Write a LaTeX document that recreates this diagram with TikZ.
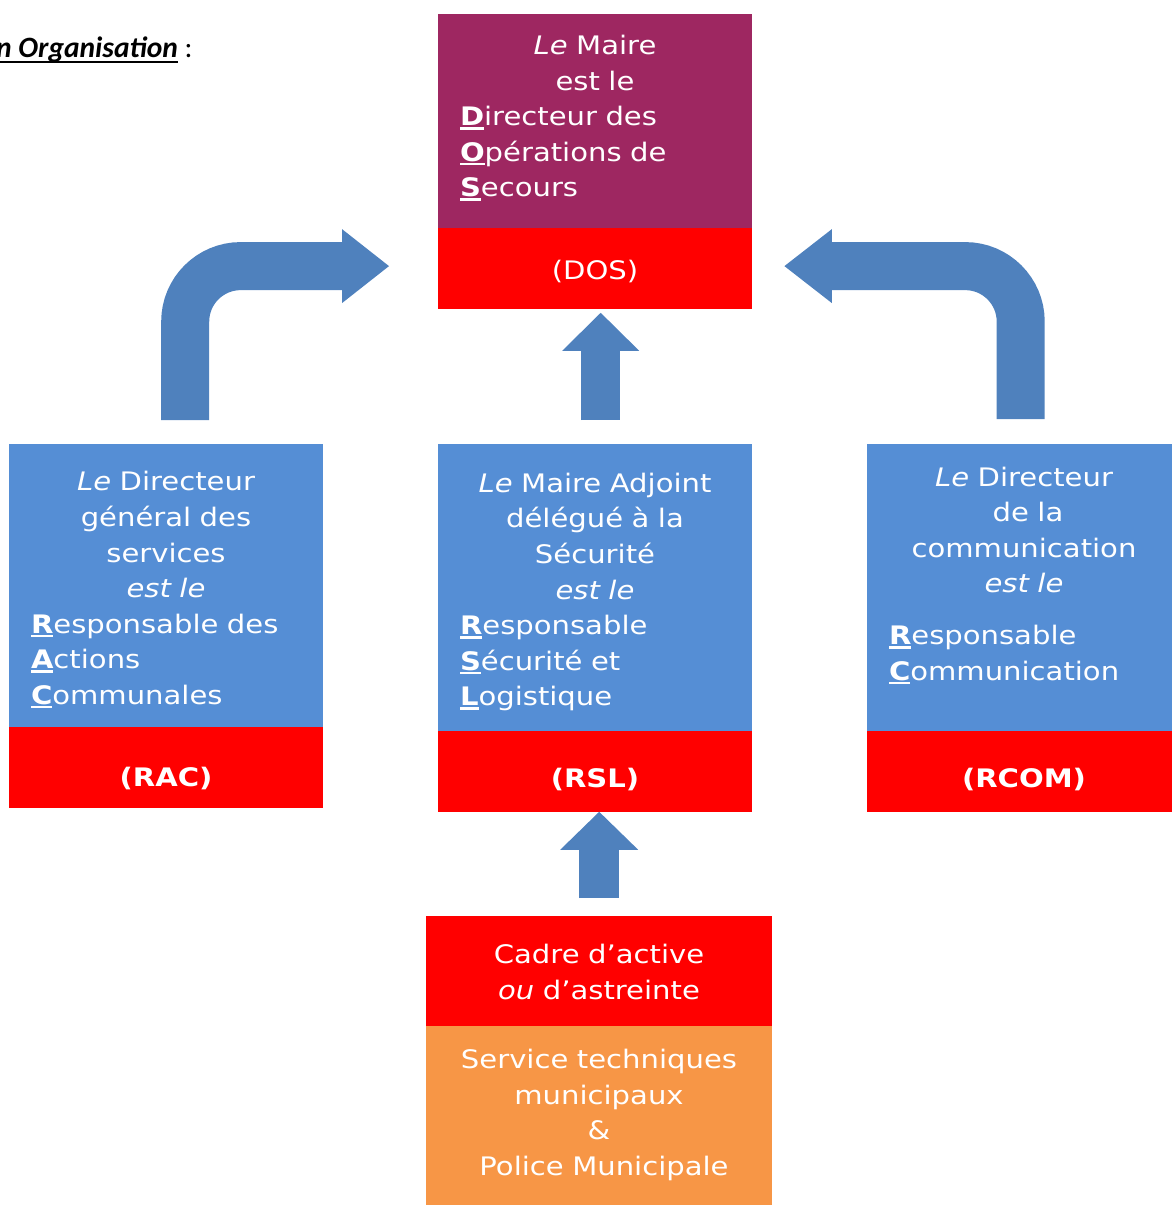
\documentclass[tikz,border=0pt]{standalone}
\usepackage{fontspec}
\setmainfont{DejaVu Sans}[FakeStretch=1.14]
\newfontfamily\titlefont{Carlito}
\usetikzlibrary{arrows.meta}

\definecolor{dospurple}{RGB}{158,39,97}
\definecolor{boxblue}{RGB}{85,142,213}
\definecolor{arrowblue}{RGB}{79,129,189}
\definecolor{boxorange}{RGB}{247,150,70}
\definecolor{boxred}{RGB}{255,0,0}

% underlined letter (#2) with the rule #1 below the baseline
\newcommand{\ulin}[2]{\leavevmode\setbox0\hbox{#2}\rlap{\rule[#1]{\wd0}{2.4pt}}\box0}
\newcommand{\capinit}[1]{\ulin{-4pt}{\bfseries #1}}
\newcommand{\boxfont}{\fontsize{25.5}{35.6}\selectfont}

\tikzset{
  panel/.style={fill=#1,draw=none,inner sep=0pt,anchor=north west,minimum width=314pt},
  paneltext/.style={text=white,text width=270pt,inner sep=0pt,font=\boxfont},
  tag/.style={text=white,inner sep=0pt,font=\boxfont},
  bigarrow/.style n args={3}{draw=arrowblue,line width=#1,rounded corners=55.5pt,
    -{Triangle[width=#2,length=#3,line width=0pt]}}
}

\begin{document}
\begin{tikzpicture}[x=1pt,y=-1pt]
  \useasboundingbox (0,0) rectangle (1171,1205);

  % title, cut at the left edge
  \node[anchor=base west,inner sep=0pt,font=\titlefont\fontsize{29.5}{34}\selectfont] (title) at (-4,57)
    {\ulin{-6pt}{\bfseries\itshape n Organisation}~:};

  % DOS
  \node[panel=dospurple,minimum height=214pt] (dosbody) at (438,14) {};
  \node[panel=boxred,minimum height=81pt] (dosred) at ([yshift=1pt]dosbody.south west) {};
  \node[paneltext] (dostext) at (595,118)
    {\centering\textit{Le} Maire\\ est le\par\raggedright
     \capinit{D}irecteur des\\ \capinit{O}pérations de\\ \capinit{S}ecours\par};
  \node[tag] (dostag) at (595,271.5) {(DOS)};

  % RAC
  \node[panel=boxblue,minimum height=283pt] (racbody) at (9,444) {};
  \node[panel=boxred,minimum height=81pt] (racred) at ([yshift=1pt]racbody.south west) {};
  \node[paneltext] (ractext) at (166,590)
    {\centering\textit{Le} Directeur\\ général des\\ services\\ \textit{est le}\par\raggedright
     \capinit{R}esponsable des\\ \capinit{A}ctions\\ \capinit{C}ommunales\par};
  \node[tag,font=\boxfont\bfseries] (ractag) at (166,778) {(RAC)};

  % RSL
  \node[panel=boxblue,minimum height=287pt] (rslbody) at (438,444) {};
  \node[panel=boxred,minimum height=81pt] (rslred) at ([yshift=1pt]rslbody.south west) {};
  \node[paneltext] (rsltext) at (595,592)
    {\centering\textit{Le} Maire Adjoint\\ délégué à la\\ Sécurité\\ \textit{est le}\par\raggedright
     \capinit{R}esponsable\\ \capinit{S}écurité et\\ \capinit{L}ogistique\par};
  \node[tag,font=\boxfont\bfseries] (rsltag) at (595,779.5) {(RSL)};

  % RCOM
  \node[panel=boxblue,minimum height=287pt] (rcombody) at (867,444) {};
  \node[panel=boxred,minimum height=81pt] (rcomred) at ([yshift=1pt]rcombody.south west) {};
  \node[paneltext] (rcomtext) at (1024,575.5)
    {\centering\textit{Le} Directeur\\ \hspace*{8pt}de la\\ communication\\
     \textit{est le}\hspace*{46pt}\\[16pt]\raggedright
     \capinit{R}esponsable\\ \capinit{C}ommunication\par};
  \node[tag,font=\boxfont\bfseries] (rcomtag) at (1024,779.5) {(RCOM)};

  % cadre / services
  \node[panel=boxred,minimum width=346pt,minimum height=110pt] (cadre) at (426,916) {};
  \node[panel=boxorange,minimum width=346pt,minimum height=180pt] (services) at ([yshift=1pt]cadre.south west) {};
  \node[paneltext,text width=340pt,align=center] (cadretext) at (599,972)
    {Cadre d’active\\ \textit{ou} d’astreinte};
  \node[paneltext,text width=340pt,align=center] (servicestext) at (599,1115)
    {Service techniques\\ municipaux\\ \&\\ \hspace*{10pt}Police Municipale};

  % arrows
  \draw[bigarrow={48pt}{74pt}{47pt}] ([xshift=19pt,yshift=24pt]racbody.north) |- ([xshift=-49pt,yshift=2pt]dosred.west);
  \draw[bigarrow={48pt}{74pt}{47.5pt}] ([xshift=-3.5pt,yshift=25pt]rcombody.north) |- ([xshift=32pt,yshift=2pt]dosred.east);
  \draw[bigarrow={39pt}{77pt}{38pt}] ([xshift=5.5pt,yshift=24pt]rslbody.north) -- ([xshift=5.5pt,yshift=-4pt]dosred.south);
  \draw[bigarrow={40pt}{78pt}{38pt}] ([yshift=18pt]cadre.north) -- ([xshift=4pt]rslred.south);
\end{tikzpicture}
\end{document}
